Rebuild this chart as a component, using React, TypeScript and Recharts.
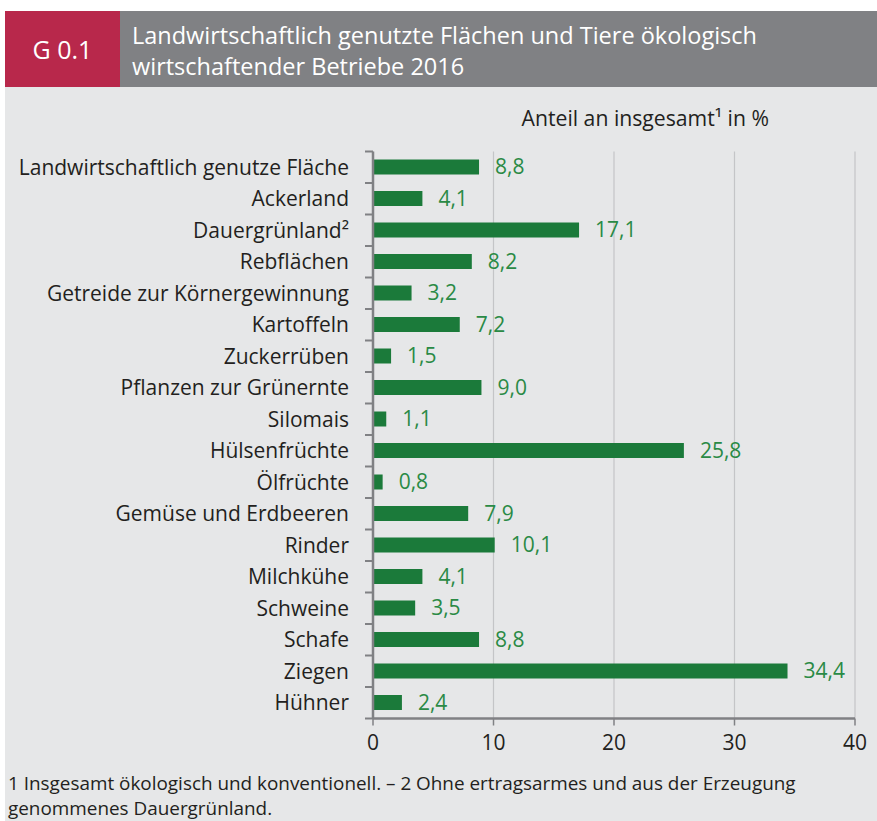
import { BarChart, Bar, XAxis, YAxis, CartesianGrid, LabelList } from 'recharts'

const categories = [
  'Landwirtschaftlich genutze Fläche',
  'Ackerland',
  'Dauergrünland²',
  'Rebflächen',
  'Getreide zur Körnergewinnung',
  'Kartoffeln',
  'Zuckerrüben',
  'Pflanzen zur Grünernte',
  'Silomais',
  'Hülsenfrüchte',
  'Ölfrüchte',
  'Gemüse und Erdbeeren',
  'Rinder',
  'Milchkühe',
  'Schweine',
  'Schafe',
  'Ziegen',
  'Hühner',
]

const shares = [8.8, 4.1, 17.1, 8.2, 3.2, 7.2, 1.5, 9.0, 1.1, 25.8, 0.8, 7.9, 10.1, 4.1, 3.5, 8.8, 34.4, 2.4]

const xTicks = [0, 10, 20, 30, 40]

const data = categories.map((name, i) => ({ name, value: shares[i] }))

const FONT = '"Open Sans", "Noto Sans", sans-serif'
const CHART_W = 877
const CHART_H = 821
const X_AXIS_H = 40
const MARGIN = { top: 151.5, right: 22, bottom: 62.5, left: 173 }
const BAND = (CHART_H - MARGIN.top - MARGIN.bottom - X_AXIS_H) / categories.length

// category labels plus the small tick marks between the bands
function CategoryTick(props: any) {
  const { x, y, payload, index } = props
  const isLast = index === categories.length - 1
  const top = y - BAND / 2
  const bottom = y + BAND / 2
  return (
    <g>
      <text x={x - 24} y={y} dy="0.35em" textAnchor="end" fontSize={21} fill="#231f20" fontFamily={FONT}>
        {payload.value}
      </text>
      <rect x={x - 8} y={top - 1} width={8} height={2} fill="#808184" />
      {isLast && <rect x={x - 8} y={bottom - 1} width={8} height={2} fill="#808184" />}
    </g>
  )
}

const fmt = (v: any) => Number(v).toFixed(1).replace('.', ',')

export default function App() {
  return (
    <div style={{ position: 'absolute', left: 0, top: 0, width: CHART_W, height: CHART_H, background: '#fff', fontFamily: FONT, overflow: 'hidden' }}>
      <div style={{ position: 'absolute', left: 5, top: 11, right: 0, bottom: 0, background: '#e6e7e8' }} />
      <div style={{ position: 'absolute', left: 5, top: 11, width: 115, height: 76, background: '#b8284b', color: '#fff', fontSize: 25, display: 'flex', alignItems: 'center', justifyContent: 'center' }}>
        G 0.1
      </div>
      <div style={{ position: 'absolute', left: 120, top: 11, right: 0, height: 76, background: '#808184', color: '#fff', fontSize: 23.5, lineHeight: '31px', padding: '9px 0 0 12px', boxSizing: 'border-box', fontWeight: 500 }}>
        Landwirtschaftlich genutzte Flächen und Tiere ökologisch
        <br />
        wirtschaftender Betriebe 2016
      </div>
      <div style={{ position: 'absolute', right: 108, top: 103, fontSize: 21.2, color: '#231f20' }}>
        Anteil an insgesamt¹ in %
      </div>
      <div style={{ position: 'absolute', left: 0, top: 0 }}>
        <BarChart width={CHART_W} height={CHART_H} data={data} layout="vertical" margin={MARGIN} barCategoryGap={0}>
          <CartesianGrid horizontal={false} stroke="#c4c5c7" strokeWidth={1.2} />
          <XAxis
            type="number"
            domain={[0, 40]}
            ticks={xTicks}
            height={X_AXIS_H}
            axisLine={{ stroke: '#808184', strokeWidth: 2.5 }}
            tickLine={{ stroke: '#808184', strokeWidth: 1.5 }}
            tickSize={7}
            tickMargin={10}
            tick={{ fontSize: 21, fill: '#231f20', fontFamily: FONT }}
          />
          <XAxis
            xAxisId="top"
            orientation="top"
            type="number"
            domain={[0, 40]}
            height={0}
            tick={false}
            tickLine={false}
            axisLine={{ stroke: '#c4c5c7', strokeWidth: 1.2 }}
          />
          <YAxis
            type="category"
            dataKey="name"
            width={200}
            interval={0}
            tickSize={0}
            tickMargin={0}
            axisLine={{ stroke: '#808184', strokeWidth: 2.5 }}
            tickLine={false}
            tick={<CategoryTick />}
          />
          <Bar dataKey="value" fill="#1b7a3a" barSize={15} isAnimationActive={false}>
            <LabelList
              dataKey="value"
              position="right"
              offset={16}
              formatter={fmt}
              style={{ fontSize: 21, fill: '#2a8a45', fontFamily: FONT }}
            />
          </Bar>
        </BarChart>
      </div>
      <div style={{ position: 'absolute', left: 8, top: 771, width: 860, fontSize: 18.9, lineHeight: '25px', color: '#231f20' }}>
        1 Insgesamt ökologisch und konventionell. – 2 Ohne ertragsarmes und aus der Erzeugung
        <br />
        genommenes Dauergrünland.
      </div>
    </div>
  )
}
